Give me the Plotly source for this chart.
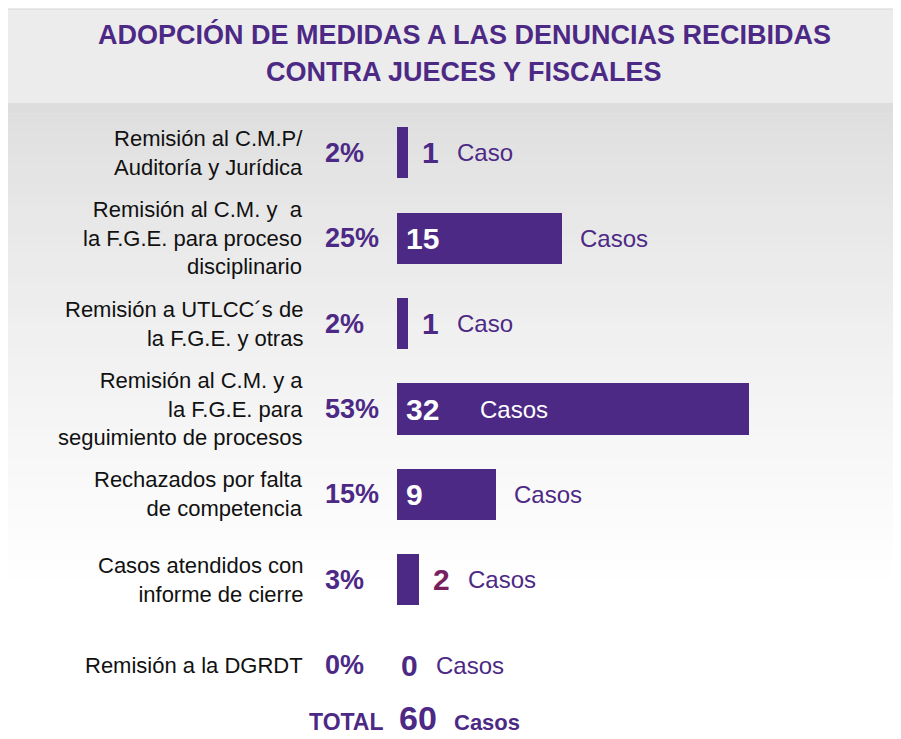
import plotly.graph_objects as go

# ---------------- data ----------------
title_lines = ["ADOPCIÓN DE MEDIDAS A LAS DENUNCIAS RECIBIDAS",
               "CONTRA JUECES Y FISCALES"]
categories = [
    "Remisión al C.M.P/<br>Auditoría y Jurídica",
    "Remisión al C.M. y  a<br>la F.G.E. para proceso<br>disciplinario",
    "Remisión a UTLCC´s de<br>la F.G.E. y otras",
    "Remisión al C.M. y a<br>la F.G.E. para<br>seguimiento de procesos",
    "Rechazados por falta<br>de competencia",
    "Casos atendidos con<br>informe de cierre",
    "Remisión a la DGRDT",
]
cases = [1, 15, 1, 32, 9, 2, 0]
percents = [2, 25, 2, 53, 15, 3, 0]
total = 60

# ---------------- style ----------------
PURPLE = "#4D2986"
MAGENTA = "#7A1F5E"
num_colors = [PURPLE, None, PURPLE, None, None, MAGENTA, PURPLE]
FONT = "Liberation Sans, Arial, sans-serif"

OFF = 8                      # page body margin
W, H = 901 - OFF, 739 - OFF  # figure size
PL, PT, PB = 397, 110, 708   # plot area in page pixels (left, top, bottom)
L, T = PL - OFF, PT - OFF
R = 0
B = H - (PB - OFF)
PW, PH = W - L - R, H - T - B
BAR_PX_MAX = 352  # pixel length of the longest bar


def px_x(px):
    """page pixel x -> paper coordinate"""
    return (px - PL) / PW


def px_y(py):
    """page pixel y -> paper coordinate"""
    return (PB - py) / PH


xmax = max(cases) * PW / BAR_PX_MAX
px_per_unit = PW / xmax

fig = go.Figure()
fig.add_trace(go.Bar(
    x=cases, y=categories, orientation="h",
    marker=dict(color=PURPLE, line=dict(width=0)),
    width=0.6, hoverinfo="skip",
))

shapes = []
# header band
shapes.append(dict(type="rect", xref="paper", yref="paper",
                   x0=px_x(8), x1=px_x(901), y0=px_y(103), y1=px_y(9),
                   fillcolor="#ECECEC", line=dict(width=0), layer="below"))
shapes.append(dict(type="line", xref="paper", yref="paper",
                   x0=px_x(8), x1=px_x(901), y0=px_y(9), y1=px_y(9),
                   line=dict(color="#D4D4D4", width=1), layer="below"))
# gradient body
n = 48
top, bot = 103, 590
c0, c1 = 221, 255
for i in range(n):
    y0 = top + (bot - top) * i / n
    y1 = top + (bot - top) * (i + 1) / n + 0.6
    t = i / (n - 1)
    v = int(round(c0 + (c1 - c0) * (t ** 0.8)))
    shapes.append(dict(type="rect", xref="paper", yref="paper",
                       x0=px_x(8), x1=px_x(901), y0=px_y(y1), y1=px_y(y0),
                       fillcolor=f"rgb({v},{v},{v})", line=dict(width=0),
                       layer="below"))

ann = []
for i, t in enumerate(title_lines):
    ann.append(dict(text=f"<b>{t}</b>", xref="paper", yref="paper",
                    x=px_x(464), y=px_y(34 + 38 * i), xanchor="center",
                    yanchor="middle", showarrow=False,
                    font=dict(family=FONT, size=27, color=PURPLE)))

NUM_SIZE = 30
DIGIT_W = 0.556 * NUM_SIZE
for i, cat in enumerate(categories):
    c = cases[i]
    bar_px = c * px_per_unit
    # row label
    ann.append(dict(text=cat, xref="paper", yref="y", x=px_x(305), y=cat,
                    xanchor="right", yanchor="middle", align="right",
                    showarrow=False,
                    font=dict(family=FONT, size=22, color="#111111")))
    # percent
    ann.append(dict(text=f"<b>{percents[i]}%</b>", xref="paper", yref="y",
                    x=px_x(323), y=cat, xanchor="left", yanchor="middle",
                    showarrow=False,
                    font=dict(family=FONT, size=27, color=PURPLE)))
    unit = "Caso" if c == 1 else "Casos"
    digits = len(str(c))
    if bar_px >= 60:
        ann.append(dict(text=f"<b>{c}</b>", xref="x", yref="y", x=0, y=cat,
                        xanchor="left", yanchor="middle", xshift=7,
                        showarrow=False,
                        font=dict(family=FONT, size=NUM_SIZE, color="white")))
        if bar_px >= 300:
            ann.append(dict(text=unit, xref="paper", yref="y", x=px_x(478),
                            y=cat, xanchor="left", yanchor="middle",
                            showarrow=False,
                            font=dict(family=FONT, size=24, color="white")))
        else:
            ann.append(dict(text=unit, xref="x", yref="y", x=c, y=cat,
                            xanchor="left", yanchor="middle", xshift=16,
                            showarrow=False,
                            font=dict(family=FONT, size=24, color=PURPLE)))
    else:
        gap = 12 if c > 0 else 2
        ann.append(dict(text=f"<b>{c}</b>", xref="x", yref="y", x=c, y=cat,
                        xanchor="left", yanchor="middle", xshift=gap,
                        showarrow=False,
                        font=dict(family=FONT, size=NUM_SIZE,
                                  color=num_colors[i] or PURPLE)))
        ann.append(dict(text=unit, xref="x", yref="y", x=c, y=cat,
                        xanchor="left", yanchor="middle",
                        xshift=gap + DIGIT_W * digits + 18,
                        showarrow=False,
                        font=dict(family=FONT, size=24, color=PURPLE)))

# total line
ann.append(dict(text="<b>TOTAL</b>", xref="paper", yref="paper", x=px_x(307),
                y=px_y(722), xanchor="left", yanchor="middle", showarrow=False,
                font=dict(family=FONT, size=23, color=PURPLE)))
ann.append(dict(text=f"<b>{total}</b>", xref="paper", yref="paper",
                x=px_x(397), y=px_y(718), xanchor="left", yanchor="middle",
                showarrow=False, font=dict(family=FONT, size=34, color=PURPLE)))
ann.append(dict(text="<b>Casos</b>", xref="paper", yref="paper", x=px_x(452),
                y=px_y(722), xanchor="left", yanchor="middle", showarrow=False,
                font=dict(family=FONT, size=22, color=PURPLE)))

fig.update_layout(
    width=W, height=H,
    margin=dict(l=L, r=R, t=T, b=B, pad=0),
    paper_bgcolor="white", plot_bgcolor="rgba(0,0,0,0)",
    showlegend=False, bargap=0,
    xaxis=dict(range=[0, xmax], visible=False, fixedrange=True),
    yaxis=dict(type="category", categoryorder="array",
               categoryarray=categories,
               range=[len(categories) - 0.5, -0.5],
               showticklabels=False, showgrid=False, zeroline=False,
               showline=False, ticks="", fixedrange=True),
    shapes=shapes, annotations=ann,
)

fig.write_html("out.html", config={"displayModeBar": False})
